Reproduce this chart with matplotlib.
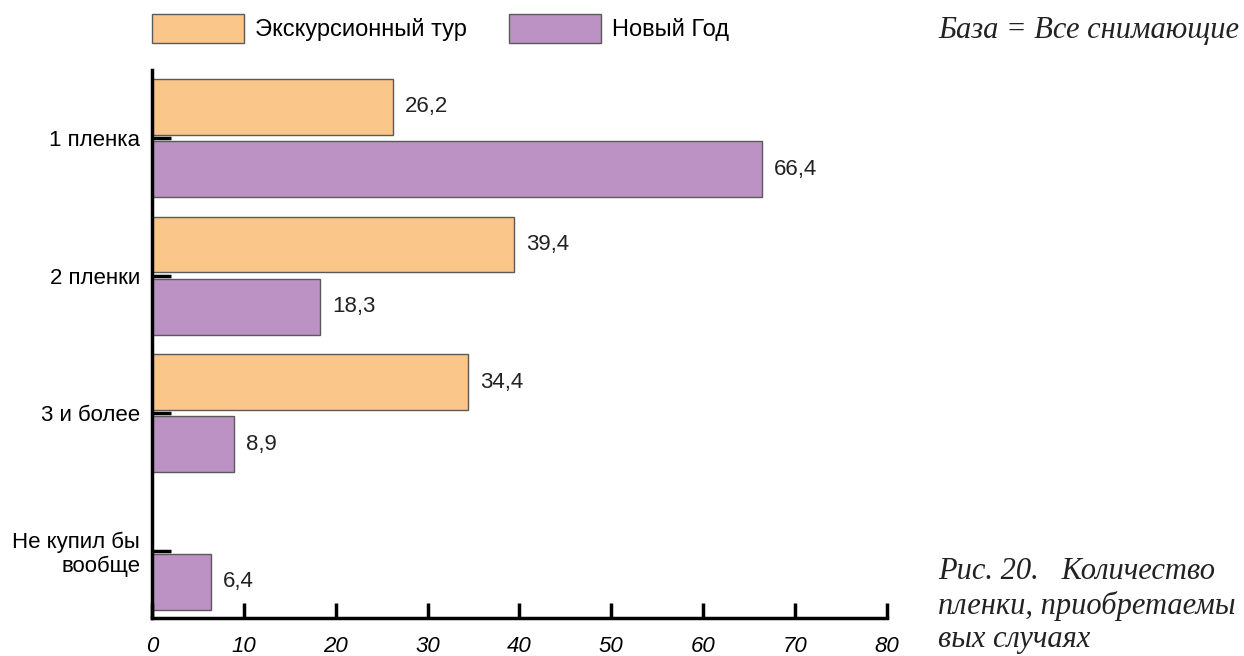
import matplotlib
matplotlib.use('Agg')
import matplotlib.pyplot as plt
import numpy as np

categories = ['1 пленка', '2 пленки', '3 и более', 'Не купил бы\nвообще']
tour = [26.2, 39.4, 34.4, None]
newyear = [66.4, 18.3, 8.9, 6.4]
series_names = ['Экскурсионный тур', 'Новый Год']
xticks = [0, 10, 20, 30, 40, 50, 60, 70, 80]

plt.rcParams['font.family'] = ['Liberation Sans', 'DejaVu Sans']

fig = plt.figure(figsize=(12.44, 6.56), dpi=100)
ax = fig.add_axes([0.1222, 0.0579, 0.5908, 0.8354])

pos = np.arange(len(categories))
h = 0.405
off = 0.226
orange = '#fac68a'
purple = '#bb92c3'
edge = '#5a5a5a'

for i, v in enumerate(tour):
    if v is None:
        continue
    ax.barh(pos[i] - off, v, height=h, color=orange, edgecolor=edge, linewidth=1)
    ax.text(v + 1.3, pos[i] - off, f'{v:.1f}'.replace('.', ','), va='center', ha='left',
            fontsize=16, color='#222222')
for i, v in enumerate(newyear):
    ax.barh(pos[i] + off, v, height=h, color=purple, edgecolor=edge, linewidth=1)
    ax.text(v + 1.3, pos[i] + off, f'{v:.1f}'.replace('.', ','), va='center', ha='left',
            fontsize=16, color='#222222')

ax.set_xlim(0, 80)
ax.set_ylim(3.49, -0.495)
ax.set_yticks(pos)
ax.set_yticklabels(categories, fontsize=16, linespacing=1.15)
ax.set_xticks(xticks)
ax.set_xticklabels([str(t) for t in xticks], fontsize=16, style='italic')
ax.tick_params(axis='y', direction='in', length=14, width=2.5, pad=8.5)
ax.tick_params(axis='x', direction='in', length=11, width=2.5, pad=13)
for s in ['top', 'right']:
    ax.spines[s].set_visible(False)
for s in ['left', 'bottom']:
    ax.spines[s].set_linewidth(2.5)
ax.set_axisbelow(False)

handles = [plt.Rectangle((0, 0), 1, 1, facecolor=orange, edgecolor=edge, linewidth=1),
           plt.Rectangle((0, 0), 1, 1, facecolor=purple, edgecolor=edge, linewidth=1)]
fig.legend(handles, series_names, loc='upper left', bbox_to_anchor=(0.1222, 0.979),
           ncol=2, frameon=False, fontsize=17, handlelength=3.9, handleheight=1.5,
           handletextpad=0.47, columnspacing=1.78, borderpad=0, borderaxespad=0)

fig.text(0.754, 0.954, 'База = Все снимающие', fontsize=22, style='italic',
         family='Liberation Serif', va='center', ha='left', color='#222222')
fig.text(0.754, 0.077, 'Рис. 20.   Количество\nпленки, приобретаемы\nвых случаях',
         fontsize=22, style='italic', family='Liberation Serif', va='center', ha='left',
         linespacing=1.22, color='#222222')

fig.savefig('out.png', dpi=100)
